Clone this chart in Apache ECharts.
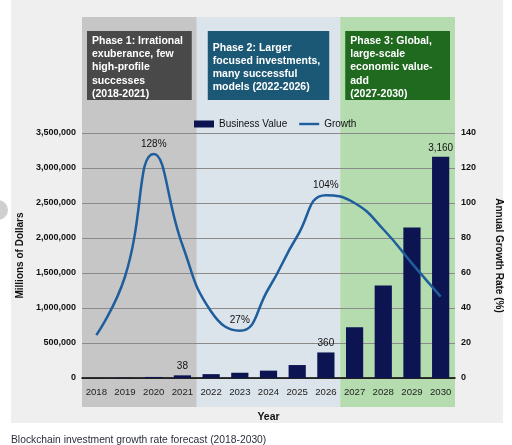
<!DOCTYPE html>
<html>
<head>
<meta charset="utf-8">
<script src="https://cdn.jsdelivr.net/npm/echarts@6/dist/echarts.min.js"></script>
<style>
  html, body { margin: 0; padding: 0; background: #fff; }
  #chart { width: 512px; height: 445px; }
</style>
</head>
<body>
<div id="chart"></div>
<script>
// data
const years = ['2018', '2019', '2020', '2021', '2022', '2023', '2024', '2025', '2026', '2027', '2028', '2029', '2030']
const businessValue = [2000, 4000, 15000, 38000, 55000, 75000, 105000, 185000, 365000, 725000, 1320000, 2150000, 3160000]
const growth = [24.5, 58, 128, 76, 38, 27, 51, 81, 104.5, 100, 85, 65.5, 46.5]
const barLabels = { 3: '38', 8: '360', 12: '3,160' }
const growthLabels = { 2: '128%', 5: '27%', 8: '104%' }
const phases = [
  { from: 0, to: 3, text: 'Phase 1: Irrational\nexuberance, few\nhigh-profile\nsuccesses\n(2018-2021)', band: '#c6c6c6', box: '#494949' },
  { from: 4, to: 8, text: 'Phase 2: Larger\nfocused investments,\nmany successful\nmodels (2022-2026)', band: '#dbe3eb', box: '#1b5876' },
  { from: 9, to: 12, text: 'Phase 3: Global,\nlarge-scale\neconomic value-\nadd\n(2027-2030)', band: '#b5dcaf', box: '#1f6a1f' }
]

const font = 'Liberation Sans, Arial, sans-serif'
const chart = echarts.init(document.getElementById('chart'))

chart.setOption({
  animation: false,
  textStyle: { fontFamily: font },
  grid: { left: 82, right: 56, top: 133, bottom: 67 },
  legend: {
    top: 114,
    left: 189,
    itemGap: 12,
    itemWidth: 20,
    itemHeight: 7,
    textStyle: { fontSize: 10, color: '#111', fontFamily: font },
    data: [
      { name: 'Business Value', icon: 'rect' },
      { name: 'Growth', icon: 'path://M0,0 L20,0 L20,2.4 L0,2.4 Z' }
    ]
  },
  xAxis: {
    type: 'category',
    data: years,
    name: 'Year',
    nameLocation: 'middle',
    nameGap: 34,
    nameTextStyle: { fontWeight: 'bold', fontSize: 10.5, color: '#111' },
    axisLine: { lineStyle: { color: '#000', width: 1.5 } },
    axisTick: { show: false },
    axisLabel: { interval: 0, fontSize: 9.6, color: '#222', margin: 9 }
  },
  yAxis: [
    {
      type: 'value',
      min: 0,
      max: 3500000,
      interval: 500000,
      name: 'Millions of Dollars',
      nameLocation: 'middle',
      nameGap: 57,
      nameTextStyle: { fontWeight: 'bold', fontSize: 10, color: '#111' },
      axisLine: { show: false },
      axisTick: { show: false },
      axisLabel: {
        fontSize: 9, fontWeight: 'bold', color: '#111', margin: 6,
        formatter: v => v.toLocaleString('en-US')
      },
      splitLine: { lineStyle: { color: '#8a8a8a', width: 1 } }
    },
    {
      type: 'value',
      min: 0,
      max: 140,
      interval: 20,
      position: 'right',
      name: 'Annual Growth Rate (%)',
      nameLocation: 'middle',
      nameGap: 39,
      nameRotate: -90,
      nameTextStyle: { fontWeight: 'bold', fontSize: 10, color: '#111' },
      axisLine: { show: false },
      axisTick: { show: false },
      axisLabel: { fontSize: 9, fontWeight: 'bold', color: '#111', margin: 6 },
      splitLine: { show: false }
    }
  ],
  series: [
    {
      name: 'Business Value',
      type: 'bar',
      barWidth: '60%',
      itemStyle: { color: '#0c1452' },
      data: businessValue.map((v, i) => ({
        value: v,
        label: barLabels[i] ? { show: true, position: 'top', formatter: barLabels[i], fontSize: 10, color: '#111', distance: 4 } : { show: false }
      })),
      z: 2
    },
    {
      name: 'Growth',
      type: 'line',
      yAxisIndex: 1,
      smooth: 0.5,
      smoothConstraint: false,
      symbol: 'none',
      lineStyle: { color: '#1f5e9c', width: 2.5 },
      itemStyle: { color: '#1f5e9c' },
      data: growth.map((v, i) => ({
        value: v,
        symbol: growthLabels[i] ? 'circle' : 'none',
        symbolSize: 0.1,
        label: growthLabels[i] ? { show: true, position: 'top', formatter: growthLabels[i], fontSize: 10, color: '#111', distance: 5 } : { show: false }
      })),
      z: 3
    }
  ]
})

// phase bands and boxes, placed through the category axis
const c0 = chart.convertToPixel({ xAxisIndex: 0 }, years[0])
const c1 = chart.convertToPixel({ xAxisIndex: 0 }, years[1])
const step = c1 - c0
const graphics = [
  { type: 'rect', z: -20, shape: { x: 11, y: 0, width: 492, height: 423 }, style: { fill: '#efefef' } },
  { type: 'circle', z: -19, shape: { cx: -2, cy: 210, r: 10 }, style: { fill: '#cfcfcf' } },
  {
    type: 'text', z: 10, left: 11, top: 435,
    style: { text: 'Blockchain investment growth rate forecast (2018-2030)', fill: '#2b2f3a', font: '10.3px ' + font }
  }
]
phases.forEach((p, k) => {
  const x1 = chart.convertToPixel({ xAxisIndex: 0 }, years[p.from]) - step / 2
  const x2 = chart.convertToPixel({ xAxisIndex: 0 }, years[p.to]) + step / 2
  graphics.push({ type: 'rect', z: -15, shape: { x: x1, y: 17, width: x2 - x1, height: 390 }, style: { fill: p.band } })
  const inset = k === 1 ? 11 : 5
  graphics.push({ type: 'rect', z: -10, shape: { x: x1 + inset, y: 31, width: x2 - x1 - 2 * inset, height: 69 }, style: { fill: p.box } })
  const lines = p.text.split('\n').length
  graphics.push({
    type: 'text', z: -9,
    x: x1 + inset + 5,
    y: 31 + 69 / 2 - lines * 13.2 / 2 + 2,
    style: { text: p.text, fill: '#fff', font: 'bold 10.5px ' + font, lineHeight: 13.2 }
  })
})
chart.setOption({ graphic: graphics })
</script>
</body>
</html>
